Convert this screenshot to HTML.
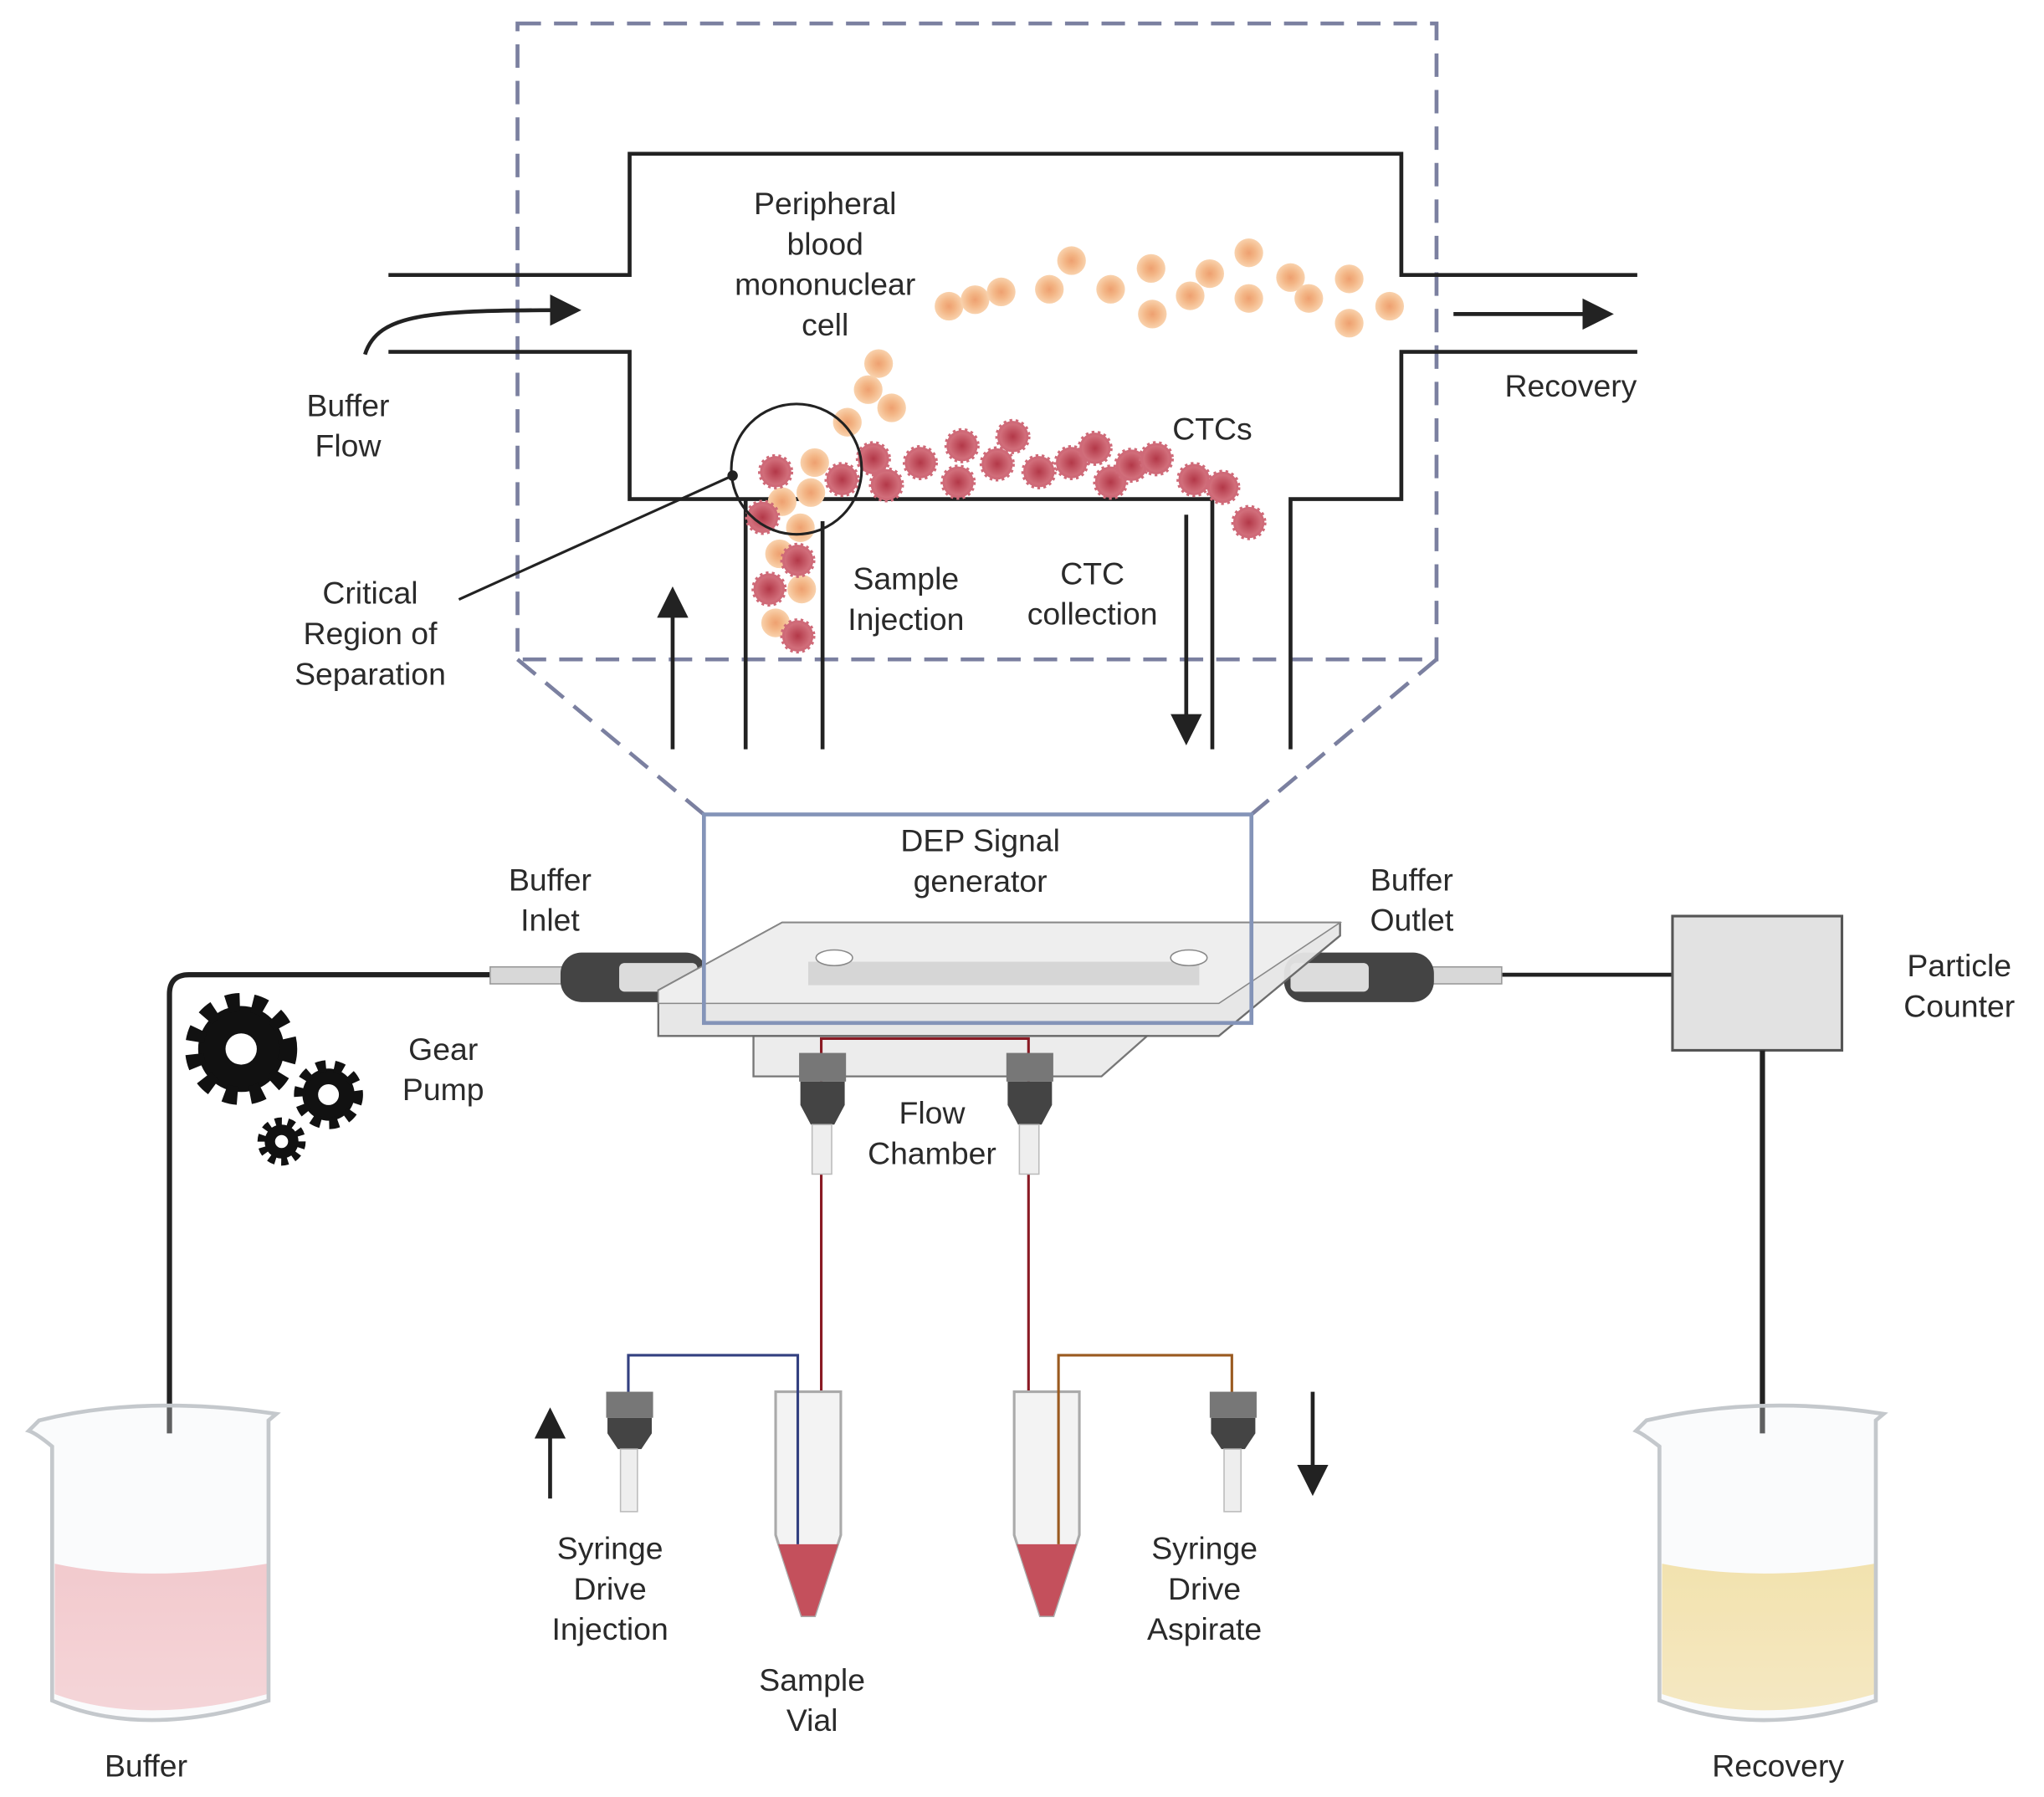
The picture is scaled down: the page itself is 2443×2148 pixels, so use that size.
<!DOCTYPE html>
<html><head><meta charset="utf-8"><style>
html,body{margin:0;padding:0;background:#fff;}
svg{display:block;}
text{font-family:"Liberation Sans",sans-serif;font-size:24px;fill:#2a2a2a;text-anchor:middle;dominant-baseline:central;}
</style></head><body>
<svg width="2443" height="2148" viewBox="0 0 1568 1379" preserveAspectRatio="none" xmlns="http://www.w3.org/2000/svg">
<defs>
<marker id="ah" markerWidth="8" markerHeight="8" refX="6" refY="4" orient="auto" markerUnits="strokeWidth"><path d="M0,0 L8,4 L0,8 z" fill="#222"/></marker>
<radialGradient id="pb"><stop offset="0" stop-color="#eea070"/><stop offset="0.45" stop-color="#f3b585"/><stop offset="1" stop-color="#f9d2ad"/></radialGradient>
<radialGradient id="ct"><stop offset="0" stop-color="#b33848"/><stop offset="1" stop-color="#d2707c"/></radialGradient>
<linearGradient id="pink" x1="0" y1="0" x2="0" y2="1"><stop offset="0" stop-color="#f4b9bd"/><stop offset="1" stop-color="#f7c9cc"/></linearGradient>
<linearGradient id="yel" x1="0" y1="0" x2="0" y2="1"><stop offset="0" stop-color="#f4dc90"/><stop offset="1" stop-color="#f7e4ad"/></linearGradient>
<g id="pbmc"><circle r="11" fill="url(#pb)"/></g>
<g id="ctc"><circle r="12" fill="#cf6a78" stroke="#cf6a78" stroke-width="3" stroke-dasharray="2 2.5"/><circle r="10" fill="url(#ct)"/></g>
</defs>

<g stroke="#7b80a0" stroke-width="3" fill="none" stroke-dasharray="18 10">
<rect x="397" y="18" width="705" height="488"/>
<line x1="397" y1="506" x2="540" y2="625"/>
<line x1="1102" y1="506" x2="960" y2="625"/>
</g>

<g stroke="#222" stroke-width="3" fill="none">
<polyline points="298,211 483,211 483,118 1075,118 1075,211 1256,211"/>
<polyline points="298,270 483,270 483,383 930,383 930,575"/>
<polyline points="990,575 990,383 1075,383 1075,270 1256,270"/>
<line x1="572" y1="383" x2="572" y2="575"/>
<line x1="631" y1="400" x2="631" y2="575"/>
</g>
<path d="M280,272 C290,240 330,238 440,238" stroke="#222" stroke-width="3" fill="none" marker-end="url(#ah)"/>
<line x1="1115" y1="241" x2="1232" y2="241" stroke="#222" stroke-width="3" marker-end="url(#ah)"/>
<line x1="516" y1="575" x2="516" y2="456" stroke="#222" stroke-width="3" marker-end="url(#ah)"/>
<line x1="910" y1="395" x2="910" y2="566" stroke="#222" stroke-width="3" marker-end="url(#ah)"/>

<g>
<use href="#pbmc" x="728" y="235"/><use href="#pbmc" x="748" y="230"/><use href="#pbmc" x="768" y="224"/>
<use href="#pbmc" x="805" y="222"/><use href="#pbmc" x="852" y="222"/><use href="#pbmc" x="822" y="200"/>
<use href="#pbmc" x="883" y="206"/><use href="#pbmc" x="884" y="241"/><use href="#pbmc" x="913" y="227"/>
<use href="#pbmc" x="928" y="210"/><use href="#pbmc" x="958" y="194"/><use href="#pbmc" x="958" y="229"/>
<use href="#pbmc" x="990" y="213"/><use href="#pbmc" x="1004" y="229"/><use href="#pbmc" x="1035" y="214"/>
<use href="#pbmc" x="1035" y="248"/><use href="#pbmc" x="1066" y="235"/>
<use href="#pbmc" x="674" y="279"/><use href="#pbmc" x="666" y="299"/><use href="#pbmc" x="684" y="313"/>
<use href="#pbmc" x="650" y="324"/><use href="#pbmc" x="625" y="355"/><use href="#pbmc" x="622" y="378"/>
<use href="#pbmc" x="600" y="385"/><use href="#pbmc" x="614" y="405"/><use href="#pbmc" x="598" y="425"/>
<use href="#pbmc" x="615" y="452"/><use href="#pbmc" x="595" y="478"/>
</g>
<g>
<use href="#ctc" x="595" y="362"/><use href="#ctc" x="646" y="368"/><use href="#ctc" x="670" y="352"/>
<use href="#ctc" x="680" y="372"/><use href="#ctc" x="706" y="355"/><use href="#ctc" x="738" y="342"/>
<use href="#ctc" x="735" y="370"/><use href="#ctc" x="765" y="356"/><use href="#ctc" x="777" y="335"/>
<use href="#ctc" x="797" y="362"/><use href="#ctc" x="822" y="355"/><use href="#ctc" x="840" y="344"/>
<use href="#ctc" x="852" y="370"/><use href="#ctc" x="868" y="357"/><use href="#ctc" x="887" y="352"/>
<use href="#ctc" x="916" y="368"/><use href="#ctc" x="938" y="374"/><use href="#ctc" x="958" y="401"/>
<use href="#ctc" x="585" y="397"/><use href="#ctc" x="612" y="430"/><use href="#ctc" x="590" y="452"/><use href="#ctc" x="612" y="488"/>
</g>
<circle cx="611" cy="360" r="50" fill="none" stroke="#222" stroke-width="2"/>
<line x1="352" y1="460" x2="562" y2="365" stroke="#222" stroke-width="2"/>
<circle cx="562" cy="365" r="4" fill="#222"/>

<path d="M380,748 L145,748 Q130,748 130,763 L130,1100" stroke="#222" stroke-width="4" fill="none"/>
<line x1="1148" y1="748" x2="1283" y2="748" stroke="#222" stroke-width="3"/>
<rect x="1283" y="703" width="130" height="103" fill="#e2e2e2" stroke="#555" stroke-width="2"/>
<line x1="1352" y1="806" x2="1352" y2="1100" stroke="#222" stroke-width="4"/>

<rect x="376" y="742" width="58" height="13" fill="#d8d8d8" stroke="#999"/>
<rect x="430" y="731" width="112" height="38" rx="16" fill="#444"/>
<rect x="475" y="739" width="60" height="22" rx="4" fill="#dcdcdc"/>
<rect x="1094" y="742" width="58" height="13" fill="#d8d8d8" stroke="#999"/>
<rect x="985" y="731" width="115" height="38" rx="16" fill="#444"/>
<rect x="990" y="739" width="60" height="22" rx="4" fill="#dcdcdc"/>

<polygon points="578,795 880,795 845,826 578,826" fill="#ececec" stroke="#777" stroke-width="1.5"/>
<polygon points="505,760 600,708 1028,708 1028,718 935,795 505,795" fill="#e6e6e6" stroke="#666" stroke-width="1.5" opacity="0.95"/>
<polygon points="505,760 600,708 1028,708 935,770 505,770" fill="#eeeeee" stroke="#888" stroke-width="1"/>
<rect x="620" y="738" width="300" height="18" fill="#d6d6d6"/>
<ellipse cx="640" cy="735" rx="14" ry="6" fill="#fff" stroke="#888"/>
<ellipse cx="912" cy="735" rx="14" ry="6" fill="#fff" stroke="#888"/>
<rect x="540" y="625" width="420" height="160" fill="none" stroke="#8494b8" stroke-width="3"/>

<polyline points="630,830 630,797 789,797 789,830" fill="none" stroke="#8a1a24" stroke-width="2"/>
<line x1="630" y1="900" x2="630" y2="1175" stroke="#8a1a24" stroke-width="2"/>
<line x1="789" y1="900" x2="789" y2="1175" stroke="#8a1a24" stroke-width="2"/>
<g>
<rect x="613" y="808" width="36" height="22" fill="#777"/><path d="M614,830 h34 v18 l-8,15 h-18 l-8,-15z" fill="#444"/>
<rect x="623" y="863" width="15" height="38" fill="#eee" stroke="#bbb"/>
<rect x="772" y="808" width="36" height="22" fill="#777"/><path d="M773,830 h34 v18 l-8,15 h-18 l-8,-15z" fill="#444"/>
<rect x="782" y="863" width="15" height="38" fill="#eee" stroke="#bbb"/>
</g>

<g fill="#111">
<circle cx="185" cy="805" r="33"/><g stroke="#111" stroke-width="14" stroke-dasharray="10 9.8"><circle cx="185" cy="805" r="36" fill="none"/></g><circle cx="185" cy="805" r="12" fill="#fff"/>
<circle cx="252" cy="840" r="20"/><g stroke="#111" stroke-width="9" stroke-dasharray="7 6.5"><circle cx="252" cy="840" r="22" fill="none"/></g><circle cx="252" cy="840" r="8" fill="#fff"/>
<circle cx="216" cy="876" r="13"/><g stroke="#111" stroke-width="7" stroke-dasharray="5 4.4"><circle cx="216" cy="876" r="15" fill="none"/></g><circle cx="216" cy="876" r="5" fill="#fff"/>
</g>

<g>
<path d="M42,1200 Q110,1215 205,1200 L205,1300 Q110,1325 42,1300z" fill="url(#pink)"/>
<path d="M30,1090 Q110,1070 212,1085 L206,1090 L206,1305 Q110,1335 40,1305 L40,1110 Q28,1100 22,1098z" fill="#eef2f5" fill-opacity="0.3" stroke="#c4c8cc" stroke-width="3"/>
<path d="M1275,1200 Q1350,1215 1438,1200 L1438,1300 Q1350,1325 1275,1300z" fill="url(#yel)"/>
<path d="M1263,1090 Q1350,1070 1445,1085 L1439,1090 L1439,1305 Q1350,1335 1273,1305 L1273,1110 Q1260,1100 1255,1098z" fill="#eef2f5" fill-opacity="0.3" stroke="#c4c8cc" stroke-width="3"/>
</g>

<g>
<path d="M595,1068 h50 v110 l-20,62 h-10 l-20,-62z" fill="#f3f3f3" stroke="#aaa" stroke-width="2"/>
<path d="M597,1185 h46 l-18,55 h-10z" fill="#c4505c"/>
<path d="M778,1068 h50 v110 l-20,62 h-10 l-20,-62z" fill="#f3f3f3" stroke="#aaa" stroke-width="2"/>
<path d="M780,1185 h46 l-18,55 h-10z" fill="#c4505c"/>
</g>
<polyline points="482,1070 482,1040 612,1040 612,1185" fill="none" stroke="#334080" stroke-width="2"/>
<polyline points="812,1185 812,1040 945,1040 945,1070" fill="none" stroke="#9a5a20" stroke-width="2"/>
<g>
<rect x="465" y="1068" width="36" height="20" fill="#777"/><path d="M466,1088 h34 v12 l-8,12 h-18 l-8,-12z" fill="#444"/>
<rect x="476" y="1112" width="13" height="48" fill="#eee" stroke="#bbb"/>
<rect x="928" y="1068" width="36" height="20" fill="#777"/><path d="M929,1088 h34 v12 l-8,12 h-18 l-8,-12z" fill="#444"/>
<rect x="939" y="1112" width="13" height="48" fill="#eee" stroke="#bbb"/>
</g>
<line x1="422" y1="1150" x2="422" y2="1086" stroke="#222" stroke-width="3" marker-end="url(#ah)"/>
<line x1="1007" y1="1068" x2="1007" y2="1142" stroke="#222" stroke-width="3" marker-end="url(#ah)"/>

<text x="633" y="156">Peripheral</text><text x="633" y="187">blood</text><text x="633" y="218">mononuclear</text><text x="633" y="249">cell</text>
<text x="267" y="311">Buffer</text><text x="267" y="342">Flow</text>
<text x="1205" y="296">Recovery</text>
<text x="930" y="329">CTCs</text>
<text x="284" y="455">Critical</text><text x="284" y="486">Region of</text><text x="284" y="517">Separation</text>
<text x="695" y="444">Sample</text><text x="695" y="475">Injection</text>
<text x="838" y="440">CTC</text><text x="838" y="471">collection</text>
<text x="752" y="645">DEP Signal</text><text x="752" y="676">generator</text>
<text x="422" y="675">Buffer</text><text x="422" y="706">Inlet</text>
<text x="1083" y="675">Buffer</text><text x="1083" y="706">Outlet</text>
<text x="1503" y="741">Particle</text><text x="1503" y="772">Counter</text>
<text x="340" y="805">Gear</text><text x="340" y="836">Pump</text>
<text x="715" y="854">Flow</text><text x="715" y="885">Chamber</text>
<text x="468" y="1188">Syringe</text><text x="468" y="1219">Drive</text><text x="468" y="1250">Injection</text>
<text x="924" y="1188">Syringe</text><text x="924" y="1219">Drive</text><text x="924" y="1250">Aspirate</text>
<text x="623" y="1289">Sample</text><text x="623" y="1320">Vial</text>
<text x="112" y="1355">Buffer</text>
<text x="1364" y="1355">Recovery</text>
</svg>
</body></html>
